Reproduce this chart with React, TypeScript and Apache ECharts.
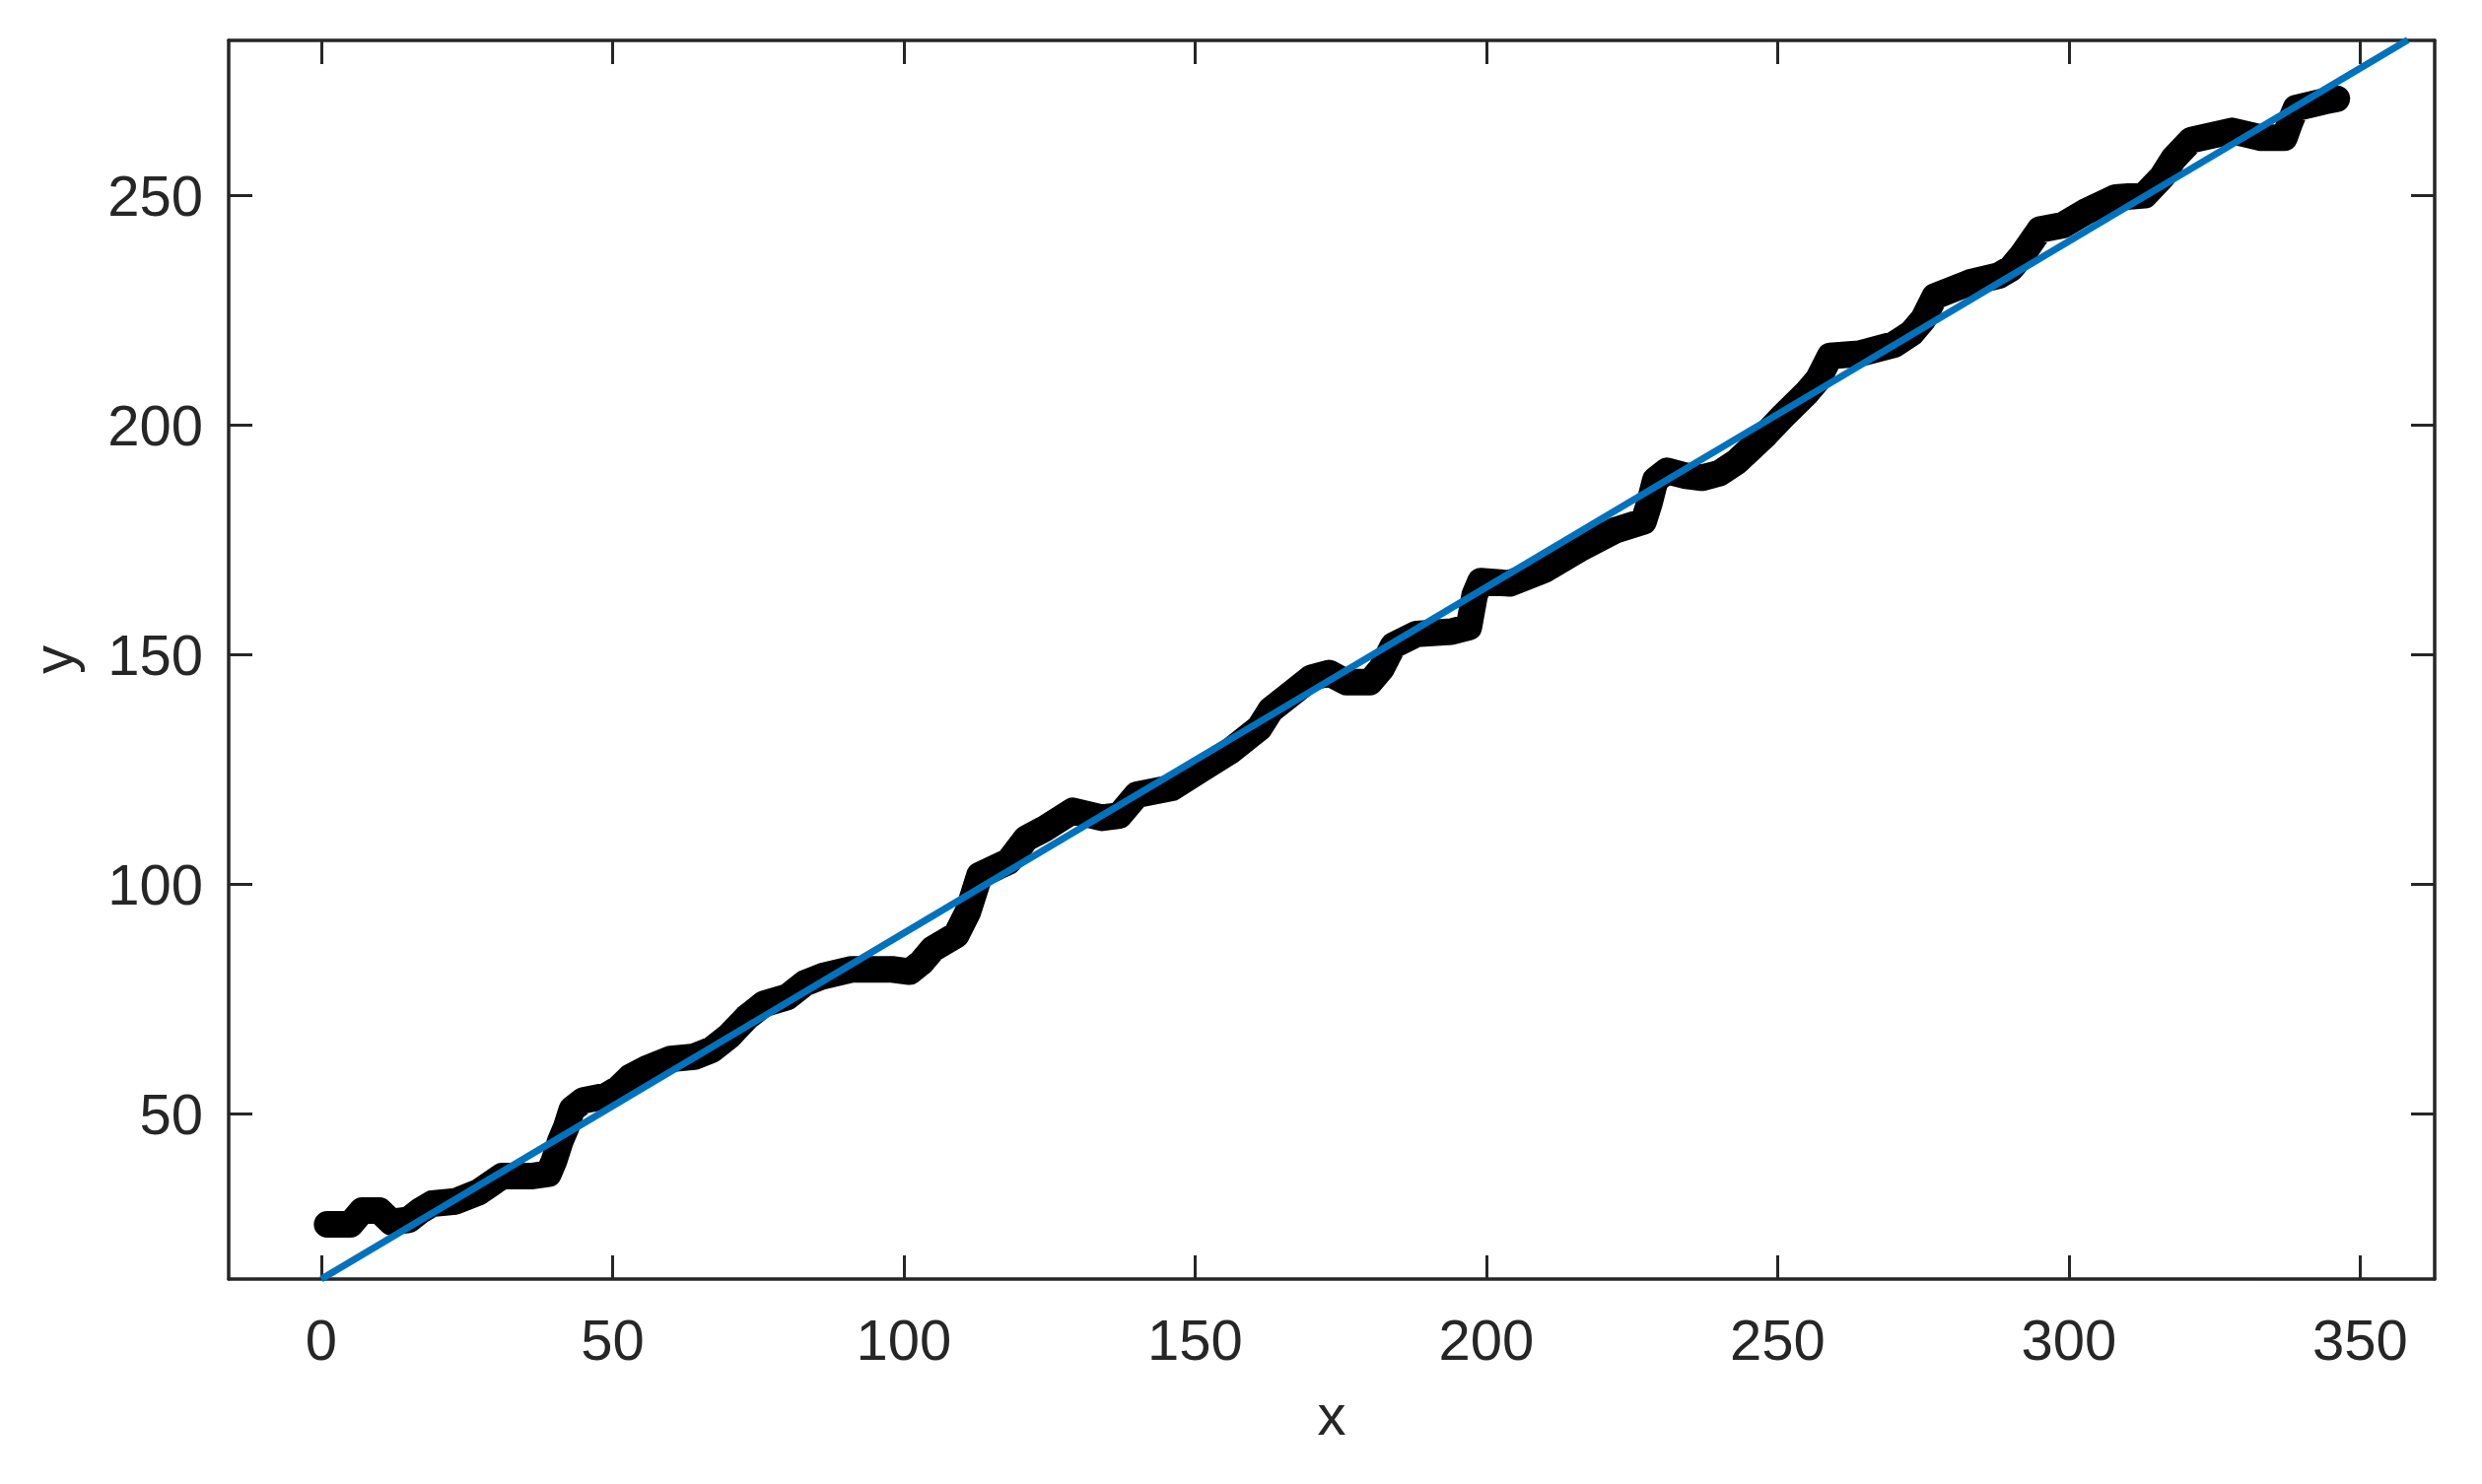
import React, { useEffect, useRef } from "react";
import * as echarts from "echarts";

const obsX = [1, 5, 7, 10, 12, 15, 17, 19, 23, 27, 31, 36, 39, 40, 41, 42, 43, 45, 49, 51, 53, 56, 60, 64, 67, 70, 73, 76, 80, 83, 86, 91, 98, 101, 103, 105, 109, 111, 112, 113, 118, 121, 124, 129, 134, 137, 140, 146, 151, 156, 161, 163, 166, 170, 173, 176, 180, 182, 184, 188, 194, 197, 198, 199, 204, 210, 216, 222, 227, 228, 229, 231, 234, 237, 240, 243, 248, 251, 255, 257, 259, 264, 270, 273, 275, 277, 283, 288, 290, 292, 295, 299, 303, 308, 313, 316, 318, 321, 328, 333, 337, 338, 339, 344, 346];
const obsY = [26, 26, 29, 29, 26.5, 27, 29, 30.5, 31, 33, 36.5, 36.5, 37, 40, 44, 47, 51, 53, 54, 55.5, 58, 60, 62, 62.5, 64, 67, 71, 74, 75.5, 78.5, 80, 81.5, 81.5, 81, 83, 86, 89, 94, 98, 102, 105, 110, 112, 116, 114.5, 115, 119.5, 121, 125, 129, 134, 138, 141, 145, 146, 144, 144, 147, 152, 154.5, 155, 156, 163, 166, 165.5, 168.5, 173, 177, 179, 183, 188, 190, 189, 188.5, 189.5, 192, 198, 202, 207, 210, 215, 215.5, 217.5, 220, 223, 228, 231, 232.5, 234, 237, 242.5, 243.5, 246.5, 249.5, 250, 254, 258, 262, 264, 262.5, 262.5, 266, 269, 270.5, 271];

// Fitted line endpoints
const fitX = [0, 358.2];
const fitY = [14.1, 283.8];

// Tick labels
const xTicks = [0, 50, 100, 150, 200, 250, 300, 350];
const yTicks = [50, 100, 150, 200, 250];

const X_MIN = -15.9;
const X_MAX = 362.8;
const Y_MIN = 14.1;
const Y_MAX = 283.7;

const AXIS_COLOR = "#262626";
const FONT = "'Liberation Sans', Arial, Helvetica, sans-serif";

export default function App() {
  const ref = useRef<HTMLDivElement>(null);

  useEffect(() => {
    if (!ref.current) return;
    const chart = echarts.init(ref.current, undefined, { renderer: "svg" });

    const obsData = obsX.map((x, i) => [x, obsY[i]]);
    const fitData = fitX.map((x, i) => [x, fitY[i]]);

    const lineStyleAxis = { color: AXIS_COLOR, width: 3.5 };
    const tickStyle = { color: AXIS_COLOR, width: 3 };

    chart.setOption({
      animation: false,
      backgroundColor: "#ffffff",
      grid: { left: 232, right: 48, top: 41, bottom: 208, containLabel: false },
      xAxis: [
        {
          type: "value",
          min: X_MIN,
          max: X_MAX,
          position: "bottom",
          name: "x",
          nameLocation: "middle",
          nameGap: 108,
          nameTextStyle: { fontFamily: FONT, fontSize: 58, color: AXIS_COLOR },
          axisLine: { show: true, onZero: false, lineStyle: lineStyleAxis },
          axisTick: { show: true, inside: true, length: 24, lineStyle: tickStyle, customValues: xTicks },
          axisLabel: { show: true, margin: 32, fontFamily: FONT, fontSize: 58, color: AXIS_COLOR, customValues: xTicks },
          splitLine: { show: false },
        },
        {
          type: "value",
          min: X_MIN,
          max: X_MAX,
          position: "top",
          axisLine: { show: true, onZero: false, lineStyle: lineStyleAxis },
          axisTick: { show: true, inside: true, length: 24, lineStyle: tickStyle, customValues: xTicks },
          axisLabel: { show: false, customValues: xTicks },
          splitLine: { show: false },
        },
      ],
      yAxis: [
        {
          type: "value",
          min: Y_MIN,
          max: Y_MAX,
          position: "left",
          name: "y",
          nameLocation: "middle",
          nameGap: 150,
          nameRotate: 90,
          nameTextStyle: { fontFamily: FONT, fontSize: 58, color: AXIS_COLOR },
          axisLine: { show: true, onZero: false, lineStyle: lineStyleAxis },
          axisTick: { show: true, inside: true, length: 24, lineStyle: tickStyle, customValues: yTicks },
          axisLabel: { show: true, margin: 26, fontFamily: FONT, fontSize: 58, color: AXIS_COLOR, customValues: yTicks },
          splitLine: { show: false },
        },
        {
          type: "value",
          min: Y_MIN,
          max: Y_MAX,
          position: "right",
          axisLine: { show: true, onZero: false, lineStyle: lineStyleAxis },
          axisTick: { show: true, inside: true, length: 24, lineStyle: tickStyle, customValues: yTicks },
          axisLabel: { show: false, customValues: yTicks },
          splitLine: { show: false },
        },
      ],
      series: [
        {
          type: "line",
          xAxisIndex: 0,
          yAxisIndex: 0,
          data: obsData,
          showSymbol: false,
          symbol: "none",
          lineStyle: { color: "#000000", width: 27, cap: "round", join: "round" },
          z: 2,
        },
        {
          type: "line",
          xAxisIndex: 0,
          yAxisIndex: 0,
          data: fitData,
          showSymbol: false,
          symbol: "none",
          lineStyle: { color: "#0072BD", width: 7, cap: "butt" },
          clip: false,
          z: 3,
        },
      ],
    });

    return () => chart.dispose();
  }, []);

  return (
    <div
      ref={ref}
      style={{ position: "absolute", left: 0, top: 0, width: 2518, height: 1506, background: "#fff" }}
    />
  );
}
